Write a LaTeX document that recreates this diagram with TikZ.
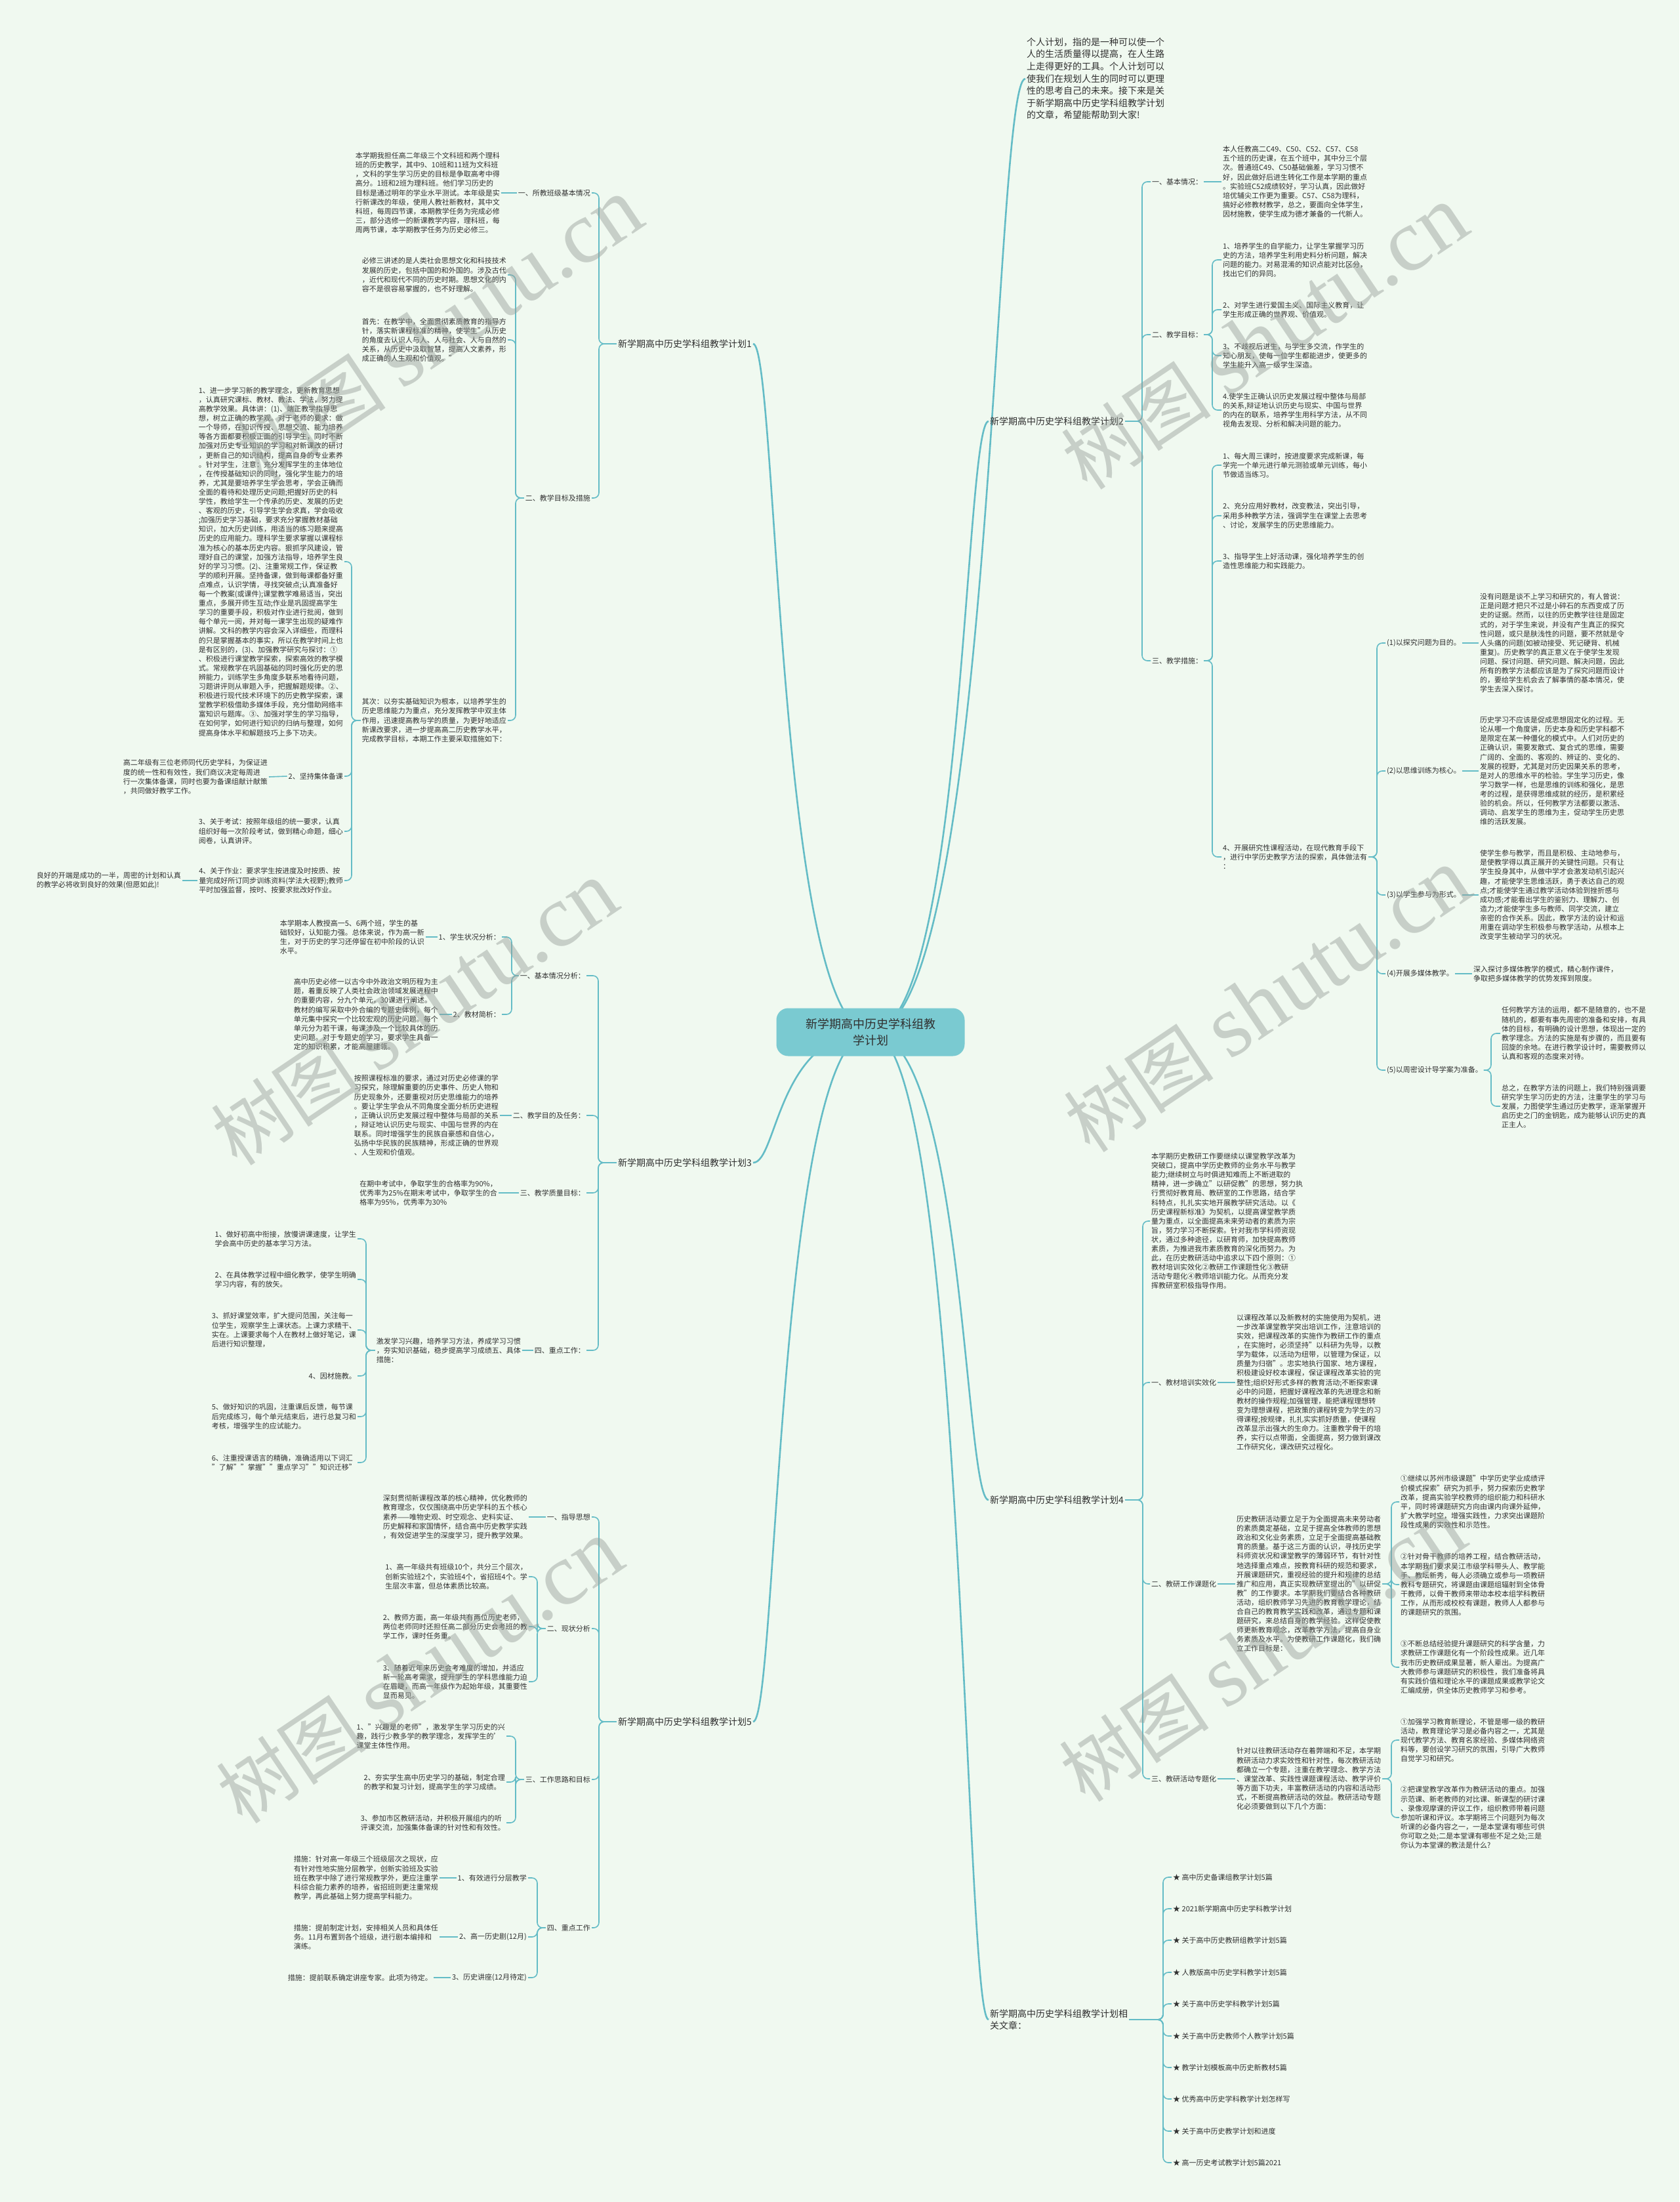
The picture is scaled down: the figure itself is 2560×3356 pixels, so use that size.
\documentclass[tikz,border=0pt]{standalone}
\usepackage{fontspec}
\setmainfont{Noto Sans CJK SC}
\newfontfamily\wmlatin{Liberation Serif}
\usetikzlibrary{backgrounds}
\definecolor{bgc}{RGB}{240,249,240}
\definecolor{lnc}{RGB}{100,188,198}
\definecolor{txc}{RGB}{48,48,48}
\definecolor{rootc}{RGB}{122,202,209}
\definecolor{wmc}{RGB}{150,158,152}
\begin{document}
\begin{tikzpicture}[x=1pt,y=-1pt,
 t/.style={font=\fontsize{11}{14.1}\selectfont, align=left, inner sep=2pt, text=txc},
 lbl/.style={font=\fontsize{11}{14}\selectfont, inner sep=2pt, text=txc},
 mainl/.style={font=\fontsize{14}{18.6}\selectfont, inner sep=2pt, text=txc, align=left},
 cn/.style={draw=lnc, line width=1.6pt, rounded corners=8pt},
 rc/.style={draw=lnc, line width=2.6pt},
 wm/.style={text=wmc, text opacity=0.45, inner sep=0pt, rotate=34}]
\useasboundingbox (0,0) rectangle (2560,3356);

% ---------------- root ----------------
\node[fill=rootc, rounded corners=18pt, minimum width=287pt, minimum height=73pt,
  font=\fontsize{18}{25}\selectfont, align=center, text=txc] (root) at (1327,1573)
  {新学期高中历史学科组教\\学计划};

% ---------------- intro ----------------
\node[mainl, anchor=west] (intro) at (1563,120) {个人计划，指的是一种可以使一个\\
人的生活质量得以提高，在人生路\\
上走得更好的工具。个人计划可以\\
使我们在规划人生的同时可以更理\\
性的思考自己的未来。接下来是关\\
于新学期高中历史学科组教学计划\\
的文章，希望能帮助到大家!};

% ---------------- plan 2 (right) ----------------
\node[mainl, anchor=west] (p2) at (1507,642) {新学期高中历史学科组教学计划2};
\coordinate (bp2) at (1741,0);
\node[lbl, anchor=west] (p2a) at (1754,277) {一、基本情况：};
\node[t, anchor=west] (p2at) at (1862,277) {本人任教高二C49、C50、C52、C57、C58\\
五个班的历史课，在五个班中，其中分三个层\\
次。普通班C49、C50基础偏差，学习习惯不\\
好，因此做好后进生转化工作是本学期的重点\\
。实验班C52成绩较好，学习认真，因此做好\\
培优辅尖工作更为重要。C57、C58为理科，\\
搞好必修教材教学，总之，要面向全体学生，\\
因材施教，使学生成为德才兼备的一代新人。};
\node[lbl, anchor=west] (p2b) at (1754,510) {二、教学目标：};
\coordinate (bp2b) at (1848,0);
\node[t, anchor=west] (p2b1) at (1862,396) {1、培养学生的自学能力，让学生掌握学习历\\
史的方法，培养学生利用史料分析问题，解决\\
问题的能力。对易混淆的知识点能对比区分，\\
找出它们的异同。};
\node[t, anchor=west] (p2b2) at (1862,472) {2、对学生进行爱国主义、国际主义教育，让\\
学生形成正确的世界观、价值观。};
\node[t, anchor=west] (p2b3) at (1862,542) {3、不歧视后进生，与学生多交流，作学生的\\
知心朋友，使每一位学生都能进步，使更多的\\
学生能升入高一级学生深造。};
\node[t, anchor=west] (p2b4) at (1862,625) {4.使学生正确认识历史发展过程中整体与局部\\
的关系,辩证地认识历史与现实、中国与世界\\
的内在的联系，培养学生用科学方法，从不同\\
视角去发现、分析和解决问题的能力。};
\node[lbl, anchor=west] (p2c) at (1754,1007) {三、教学措施：};
\coordinate (bp2c) at (1848,0);
\node[t, anchor=west] (p2c1) at (1862,709) {1、每大周三课时，按进度要求完成新课，每\\
学完一个单元进行单元测验或单元训练，每小\\
节做适当练习。};
\node[t, anchor=west] (p2c2) at (1862,786) {2、充分应用好教材，改变教法，突出引导，\\
采用多种教学方法，强调学生在课堂上去思考\\
、讨论，发展学生的历史思维能力。};
\node[t, anchor=west] (p2c3) at (1862,855) {3、指导学生上好活动课，强化培养学生的创\\
造性思维能力和实践能力。};
\node[t, anchor=west] (p2c4) at (1862,1306) {4、开展研究性课程活动，在现代教育手段下\\
，进行中学历史教学方法的探索，具体做法有\\
：};
\coordinate (bp2c4) at (2099,0);
\node[lbl, anchor=west] (p2d1) at (2112,980) {(1)以探究问题为目的。};
\node[t, anchor=west] (p2d1t) at (2254,980) {没有问题是谈不上学习和研究的，有人曾说：\\
正是问题才把只不过是小碎石的东西变成了历\\
史的证据。然而，以往的历史教学往往是固定\\
式的，对于学生来说，并没有产生真正的探究\\
性问题，或只是肤浅性的问题，要不然就是令\\
人头痛的问题(如被动接受、死记硬背、机械\\
重复)。历史教学的真正意义在于使学生发现\\
问题、探讨问题、研究问题、解决问题，因此\\
所有的教学方法都应该是为了探究问题而设计\\
的，要给学生机会去了解事情的基本情况，使\\
学生去深入探讨。};
\node[lbl, anchor=west] (p2d2) at (2112,1175) {(2)以思维训练为核心。};
\node[t, anchor=west] (p2d2t) at (2254,1175) {历史学习不应该是促成思想固定化的过程。无\\
论从哪一个角度讲，历史本身和历史学科都不\\
是限定在某一种僵化的模式中。人们对历史的\\
正确认识，需要发散式、复合式的思维，需要\\
广阔的、全面的、客观的、辨证的、变化的、\\
发展的视野，尤其是对历史因果关系的思考，\\
是对人的思维水平的检验。学生学习历史，像\\
学习数学一样，也是思维的训练和强化，是思\\
考的过程，是获得思维成就的经历，是积累经\\
验的机会。所以，任何教学方法都要以激活、\\
调动、启发学生的思维为主，促动学生历史思\\
维的活跃发展。};
\node[lbl, anchor=west] (p2d3) at (2112,1364) {(3)以学生参与为形式。};
\node[t, anchor=west] (p2d3t) at (2254,1364) {使学生参与教学，而且是积极、主动地参与，\\
是使教学得以真正展开的关键性问题。只有让\\
学生投身其中，从做中学才会激发动机引起兴\\
趣，才能使学生思维活跃，勇于表达自己的观\\
点;才能使学生通过教学活动体验到挫折感与\\
成功感;才能看出学生的鉴别力、理解力、创\\
造力;才能使学生多与教师、同学交流，建立\\
亲密的合作关系。因此，教学方法的设计和运\\
用重在调动学生积极参与教学活动，从根本上\\
改变学生被动学习的状况。};
\node[lbl, anchor=west] (p2d4) at (2112,1484) {(4)开展多媒体教学。};
\node[t, anchor=west] (p2d4t) at (2244,1484) {深入探讨多媒体教学的模式，精心制作课件，\\
争取把多媒体教学的优势发挥到限度。};
\node[lbl, anchor=west] (p2d5) at (2112,1631) {(5)以周密设计导学案为准备。};
\coordinate (bp2d5) at (2273,0);
\node[t, anchor=west] (p2d5a) at (2287,1575) {任何教学方法的运用，都不是随意的，也不是\\
随机的，都要有事先周密的准备和安排，有具\\
体的目标，有明确的设计思想，体现出一定的\\
教学理念。方法的实施是有步骤的，而且要有\\
回旋的余地。在进行教学设计时，需要教师以\\
认真和客观的态度来对待。};
\node[t, anchor=west] (p2d5b) at (2287,1686) {总之，在教学方法的问题上，我们特别强调要\\
研究学生学习历史的方法，注重学生的学习与\\
发展，力图使学生通过历史教学，逐渐掌握开\\
启历史之门的金钥匙，成为能够认识历史的真\\
正主人。};

% ---------------- plan 4 (right) ----------------
\node[mainl, anchor=west] (p4) at (1507,2286) {新学期高中历史学科组教学计划4};
\coordinate (bp4) at (1742,0);
\node[t, anchor=west] (p4i) at (1753,1861) {本学期历史教研工作要继续以课堂教学改革为\\
突破口，提高中学历史教师的业务水平与教学\\
能力;继续树立与时俱进知难而上不断进取的\\
精神，进一步确立"以研促教"的思想，努力执\\
行贯彻好教育局、教研室的工作思路，结合学\\
科特点，扎扎实实地开展教学研究活动。以《\\
历史课程新标准》为契机，以提高课堂教学质\\
量为重点，以全面提高未来劳动者的素质为宗\\
旨，努力学习不断探索。针对我市学科师资现\\
状，通过多种途径，以研育师，加快提高教师\\
素质，为推进我市素质教育的深化而努力。为\\
此，在历史教研活动中追求以下四个原则：①\\
教材培训实效化②教研工作课题性化③教研\\
活动专题化④教师培训能力化。从而充分发\\
挥教研室积极指导作用。};
\node[lbl, anchor=west] (p4a) at (1753,2107) {一、教材培训实效化};
\node[t, anchor=west] (p4at) at (1883,2107) {以课程改革以及新教材的实施使用为契机，进\\
一步改革课堂教学突出培训工作，注意培训的\\
实效，把课程改革的实施作为教研工作的重点\\
，在实施时，必须坚持"以科研为先导，以教\\
学为载体，以活动为纽带，以管理为保证，以\\
质量为归宿"。忠实地执行国家、地方课程，\\
积极建设好校本课程，保证课程改革实验的完\\
整性;组织好形式多样的教育活动;不断探索课\\
必中的问题，把握好课程改革的先进理念和新\\
教材的操作规程;加强管理，能把课程理想转\\
变为理想课程，把政策的课程转变为学生的习\\
得课程;按规律，扎扎实实抓好质量，使课程\\
改革显示出强大的生命力。注重教学骨干的培\\
养，实行以点带面，全面提高，努力做到课改\\
工作研究化，课改研究过程化。};
\node[lbl, anchor=west] (p4b) at (1753,2414) {二、教研工作课题化};
\node[t, anchor=west] (p4bt) at (1883,2414) {历史教研活动要立足于为全面提高未来劳动者\\
的素质奠定基础，立足于提高全体教师的思想\\
政治和文化业务素质，立足于全面提高基础教\\
育的质量。基于这三方面的认识，寻找历史学\\
科师资状况和课堂教学的薄弱环节，有针对性\\
地选择重点难点，按教育科研的规范和要求，\\
开展课题研究，重视经验的提升和规律的总结\\
推广和应用，真正实现教研室提出的"以研促\\
教"的工作要求。本学期我们要结合各种教研\\
活动，组织教师学习先进的教育教学理论，结\\
合自己的教育教学实践和改革，通过专题和课\\
题研究，来总结自身的教学经验。这样促使教\\
师更新教育观念，改革教学方法，提高自身业\\
务素质及水平。为使教研工作课题化，我们确\\
立工作目标是：};
\coordinate (bp4b) at (2121,0);
\node[t, anchor=west] (p4b1) at (2133,2289) {①继续以苏州市级课题"中学历史学业成绩评\\
价模式探索"研究为抓手，努力探索历史教学\\
改革，提高实验学校教师的组织能力和科研水\\
平，同时将课题研究方向由课内向课外延伸，\\
扩大教学时空，增强实践性，力求突出课题阶\\
段性成果的实效性和示范性。};
\node[t, anchor=west] (p4b2) at (2133,2415) {②针对骨干教师的培养工程，结合教研活动，\\
本学期我们要求吴江市级学科带头人、教学能\\
手、教坛新秀，每人必须确立或参与一项教研\\
教科专题研究，将课题由课题组辐射到全体骨\\
干教师，以骨干教师来带动本校本组学科教研\\
工作，从而形成校校有课题，教师人人都参与\\
的课题研究的氛围。};
\node[t, anchor=west] (p4b3) at (2133,2541) {③不断总结经验提升课题研究的科学含量，力\\
求教研工作课题化有一个阶段性成果。近几年\\
我市历史教研成果显著，新人辈出。为提高广\\
大教师参与课题研究的积极性，我们准备将具\\
有实践价值和理论水平的课题成果或教学论文\\
汇编成册，供全体历史教师学习和参考。};
\node[lbl, anchor=west] (p4c) at (1753,2711) {三、教研活动专题化};
\node[t, anchor=west] (p4ct) at (1883,2711) {针对以往教研活动存在着弊端和不足，本学期\\
教研活动力求实效性和针对性，每次教研活动\\
都确立一个专题，注重在教学理念、教学方法\\
、课堂改革、实践性课题课程活动、教学评价\\
等方面下功夫，丰富教研活动的内容和活动形\\
式，不断提高教研活动的效益。教研活动专题\\
化必须要做到以下几个方面：};
\coordinate (bp4c) at (2121,0);
\node[t, anchor=west] (p4c1) at (2133,2652) {①加强学习教育新理论，不管是哪一级的教研\\
活动，教育理论学习是必备内容之一，尤其是\\
现代教学方法、教育名家经验、多媒体网络资\\
料等，要创设学习研究的氛围，引导广大教师\\
自觉学习和研究。};
\node[t, anchor=west] (p4c2) at (2133,2770) {②把课堂教学改革作为教研活动的重点。加强\\
示范课、新老教师的对比课、新课型的研讨课\\
、录像观摩课的评议工作，组织教师带着问题\\
参加听课和评议。本学期将三个问题列为每次\\
听课的必备内容之一，一是本堂课有哪些可供\\
你可取之处;二是本堂课有哪些不足之处;三是\\
你认为本堂课的教法是什么?};

% ---------------- related (right) ----------------
\node[mainl, anchor=west] (rel) at (1507,3078) {新学期高中历史学科组教学计划相\\关文章：};
\coordinate (brel) at (1773,0);
\node[lbl, anchor=west] (r1) at (1786,2861) {★ 高中历史备课组教学计划5篇};
\node[lbl, anchor=west] (r2) at (1786,2909) {★ 2021新学期高中历史学科教学计划};
\node[lbl, anchor=west] (r3) at (1786,2957) {★ 关于高中历史教研组教学计划5篇};
\node[lbl, anchor=west] (r4) at (1786,3006) {★ 人教版高中历史学科教学计划5篇};
\node[lbl, anchor=west] (r5) at (1786,3054) {★ 关于高中历史学科教学计划5篇};
\node[lbl, anchor=west] (r6) at (1786,3103) {★ 关于高中历史教师个人教学计划5篇};
\node[lbl, anchor=west] (r7) at (1786,3151) {★ 教学计划模板高中历史新教材5篇};
\node[lbl, anchor=west] (r8) at (1786,3199) {★ 优秀高中历史学科教学计划怎样写};
\node[lbl, anchor=west] (r9) at (1786,3248) {★ 关于高中历史教学计划和进度};
\node[lbl, anchor=west] (r10) at (1786,3296) {★ 高一历史考试教学计划5篇2021};

% ---------------- plan 1 (left) ----------------
\node[mainl, anchor=east] (p1) at (1148,524) {新学期高中历史学科组教学计划1};
\coordinate (bp1) at (913,0);
\node[lbl, anchor=east] (p1a) at (902,294) {一、所教班级基本情况};
\node[t, anchor=east] (p1at) at (764,294) {本学期我担任高二年级三个文科班和两个理科\\
班的历史教学，其中9、10班和11班为文科班\\
，文科的学生学习历史的目标是争取高考中得\\
高分。1班和2班为理科班。他们学习历史的\\
目标是通过明年的学业水平测试。本年级是实\\
行新课改的年级，使用人教社新教材，其中文\\
科班，每周四节课，本期教学任务为完成必修\\
三，部分选修一的新课教学内容，理科班，每\\
周两节课，本学期教学任务为历史必修三。};
\node[lbl, anchor=east] (p1b) at (902,759) {二、教学目标及措施};
\coordinate (bp1b) at (786,0);
\node[t, anchor=east] (p1b1) at (774,419) {必修三讲述的是人类社会思想文化和科技技术\\
发展的历史，包括中国的和外国的。涉及古代\\
，近代和现代不同的历史时期。思想文化的内\\
容不是很容易掌握的，也不好理解。};
\node[t, anchor=east] (p1b2) at (774,518) {首先：在教学中，全面贯彻素质教育的指导方\\
针，落实新课程标准的精神，使学生"从历史\\
的角度去认识人与人、人与社会、人与自然的\\
关系，从历史中汲取智慧，提高人文素养，形\\
成正确的人生观和价值观。"};
\node[t, anchor=east] (p1b3) at (774,1098) {其次：以夯实基础知识为根本，以培养学生的\\
历史思维能力为重点，充分发挥教学中双主体\\
作用，迅速提高教与学的质量，为更好地适应\\
新课改要求，进一步提高高二历史教学水平，\\
完成教学目标，本期工作主要采取措施如下：};
\coordinate (bp1b3) at (536,0);
\node[t, anchor=east] (p1c1) at (525,856) {1、进一步学习新的教学理念，更新教育思想\\
，认真研究课标、教材、教法、学法，努力提\\
高教学效果。具体讲：(1)、端正教学指导思\\
想，树立正确的教学观。对于老师的要求：做\\
一个导师，在知识传授、思想交流、能力培养\\
等各方面都要积极正面的引导学生，同时不断\\
加强对历史专业知识的学习和对新课改的研讨\\
，更新自己的知识结构，提高自身的专业素养\\
。针对学生，注意：充分发挥学生的主体地位\\
，在传授基础知识的同时，强化学生能力的培\\
养，尤其是要培养学生学会思考，学会正确而\\
全面的看待和处理历史问题;把握好历史的科\\
学性，教给学生一个传承的历史、发展的历史\\
、客观的历史，引导学生学会求真，学会吸收\\
;加强历史学习基础，要求充分掌握教材基础\\
知识，加大历史训练，用适当的练习题来提高\\
历史的应用能力。理科学生要求掌握以课程标\\
准为核心的基本历史内容。狠抓学风建设，管\\
理好自己的课堂，加强方法指导，培养学生良\\
好的学习习惯。(2)、注重常规工作，保证教\\
学的顺利开展。坚持备课，做到每课都备好重\\
点难点，认识学情，寻找突破点;认真准备好\\
每一个教案(或课件);课堂教学难易适当，突出\\
重点，多展开师生互动;作业是巩固提高学生\\
学习的重要手段，积极对作业进行批阅，做到\\
每个单元一阅，并对每一课学生出现的疑难作\\
讲解。文科的教学内容会深入详细些，而理科\\
的只是掌握基本的事实，所以在教学时间上也\\
是有区别的，(3)、加强教学研究与探讨：①\\
、积极进行课堂教学探索，探索高效的教学模\\
式。常规教学在巩固基础的同时强化历史的思\\
辨能力，训练学生多角度多联系地看待问题，\\
习题讲评则从审题入手，把握解题规律。②、\\
积极进行现代技术环境下的历史教学探索，课\\
堂教学积极借助多媒体手段，充分借助网络丰\\
富知识与题库。③、加强对学生的学习指导，\\
在如何学，如何进行知识的归纳与整理，如何\\
提高身体水平和解题技巧上多下功夫。};
\node[lbl, anchor=east] (p1c2) at (525,1183) {2、坚持集体备课};
\node[t, anchor=east] (p1c2t) at (410,1184) {高二年级有三位老师同代历史学科，为保证进\\
度的统一性和有效性，我们商议决定每周进\\
行一次集体备课，同时也要为备课组献计献策\\
，共同做好教学工作。};
\node[t, anchor=east] (p1c3) at (525,1267) {3、关于考试：按照年级组的统一要求，认真\\
组织好每一次阶段考试，做到精心命题，细心\\
阅卷，认真讲评。};
\node[t, anchor=east] (p1c4) at (525,1342) {4、关于作业：要求学生按进度及时按质、按\\
量完成好所订同步训练资料(学法大视野);教师\\
平时加强监督，按时、按要求批改好作业。};
\node[t, anchor=east] (p1c4t) at (278,1342) {良好的开端是成功的一半，周密的计划和认真\\
的教学必将收到良好的效果(但愿如此)!};

% ---------------- plan 3 (left) ----------------
\node[mainl, anchor=east] (p3) at (1148,1772) {新学期高中历史学科组教学计划3};
\coordinate (bp3) at (912,0);
\node[lbl, anchor=east] (p3a) at (894,1487) {一、基本情况分析：};
\coordinate (bp3a) at (780,0);
\node[lbl, anchor=east] (p3a1) at (765,1428) {1、学生状况分析：};
\node[t, anchor=east] (p3a1t) at (649,1428) {本学期本人教授高一5、6两个班，学生的基\\
础较好，认知能力强。总体来说，作为高一新\\
生，对于历史的学习还停留在初中阶段的认识\\
水平。};
\node[lbl, anchor=east] (p3a2) at (765,1546) {2、教材简析：};
\node[t, anchor=east] (p3a2t) at (670,1546) {高中历史必修一以古今中外政治文明历程为主\\
题，着重反映了人类社会政治领域发展进程中\\
的重要内容，分九个单元，30课进行阐述。\\
教材的编写采取中外合编的专题史体例，每个\\
单元集中探究一个比较宏观的历史问题。每个\\
单元分为若干课，每课涉及一个比较具体的历\\
史问题。对于专题史的学习，要求学生具备一\\
定的知识积累，才能高屋建瓴。};
\node[lbl, anchor=east] (p3b) at (894,1700) {二、教学目的及任务：};
\node[t, anchor=east] (p3bt) at (762,1700) {按照课程标准的要求，通过对历史必修课的学\\
习探究，除理解重要的历史事件、历史人物和\\
历史现象外，还要重视对历史思维能力的培养\\
。要让学生学会从不同角度全面分析历史进程\\
，正确认识历史发展过程中整体与局部的关系\\
，辩证地认识历史与现实、中国与世界的内在\\
联系。同时增强学生的民族自豪感和自信心，\\
弘扬中华民族的民族精神，形成正确的世界观\\
、人生观和价值观。};
\node[lbl, anchor=east] (p3c) at (894,1818) {三、教学质量目标：};
\node[t, anchor=east] (p3ct) at (760,1818) {在期中考试中，争取学生的合格率为90\%，\\
优秀率为25\%在期末考试中，争取学生的合\\
格率为95\%，优秀率为30\%};
\node[lbl, anchor=east] (p3d) at (894,2058) {四、重点工作：};
\node[t, anchor=east] (p3dt) at (796,2058) {激发学习兴趣，培养学习方法，养成学习习惯\\
，夯实知识基础，稳步提高学习成绩五、具体\\
措施：};
\coordinate (bp3dt) at (558,0);
\node[t, anchor=east] (p3e1) at (545,1888) {1、做好初高中衔接，放慢讲课速度，让学生\\
学会高中历史的基本学习方法。};
\node[t, anchor=east] (p3e2) at (545,1950) {2、在具体教学过程中细化教学，使学生明确\\
学习内容，有的放矢。};
\node[t, anchor=east] (p3e3) at (545,2027) {3、抓好课堂效率，扩大提问范围，关注每一\\
位学生，观察学生上课状态。上课力求精干、\\
实在。上课要求每个人在教材上做好笔记，课\\
后进行知识整理，};
\node[lbl, anchor=east] (p3e4) at (545,2097) {4、因材施教。};
\node[t, anchor=east] (p3e5) at (545,2159) {5、做好知识的巩固，注重课后反馈，每节课\\
后完成练习，每个单元结束后，进行总复习和\\
考核，增强学生的应试能力。};
\node[t, anchor=east] (p3e6) at (545,2229) {6、注重授课语言的精确，准确适用以下词汇\\
"了解""掌握""重点学习""知识迁移"};

% ---------------- plan 5 (left) ----------------
\node[mainl, anchor=east] (p5) at (1148,2624) {新学期高中历史学科组教学计划5};
\coordinate (bp5) at (913,0);
\node[lbl, anchor=east] (p5a) at (902,2312) {一、指导思想};
\node[t, anchor=east] (p5at) at (806,2312) {深刻贯彻新课程改革的核心精神，优化教师的\\
教育理念，仅仅围绕高中历史学科的五个核心\\
素养——唯物史观、时空观念、史料实证、\\
历史解释和家国情怀，结合高中历史教学实践\\
，有效促进学生的深度学习，提升教学效果。};
\node[lbl, anchor=east] (p5b) at (902,2482) {二、现状分析};
\coordinate (bp5b) at (819,0);
\node[t, anchor=east] (p5b1) at (806,2403) {1、高一年级共有班级10个，共分三个层次，\\
创新实验班2个，实验班4个，省招班4个。学\\
生层次丰富，但总体素质比较高。};
\node[t, anchor=east] (p5b2) at (806,2479) {2、教师方面，高一年级共有两位历史老师，\\
两位老师同时还担任高二部分历史会考班的教\\
学工作，课时任务重。};
\node[t, anchor=east] (p5b3) at (806,2563) {3、随着近年来历史会考难度的增加，并适应\\
新一轮高考需求，提升学生的学科思维能力迫\\
在眉睫，而高一年级作为起始年级，其重要性\\
显而易见。};
\node[lbl, anchor=east] (p5c) at (902,2712) {三、工作思路和目标};
\coordinate (bp5c) at (786,0);
\node[t, anchor=east] (p5c1) at (772,2646) {1、"兴趣是的老师"，激发学生学习历史的兴\\
趣，践行少教多学的教学理念，发挥学生的'\\
课堂主体性作用。};
\node[t, anchor=east] (p5c2) at (772,2716) {2、夯实学生高中历史学习的基础，制定合理\\
的教学和复习计划，提高学生的学习成绩。};
\node[t, anchor=east] (p5c3) at (772,2778) {3、参加市区教研活动，并积极开展组内的听\\
评课交流，加强集体备课的针对性和有效性。};
\node[lbl, anchor=east] (p5d) at (902,2938) {四、重点工作};
\coordinate (bp5d) at (819,0);
\node[lbl, anchor=east] (p5d1) at (805,2862) {1、有效进行分层教学};
\node[t, anchor=east] (p5d1t) at (670,2862) {措施：针对高一年级三个班级层次之现状，应\\
有针对性地实施分层教学，创新实验班及实验\\
班在教学中除了进行常规教学外，更应注重学\\
科综合能力素养的培养，省招班则更注重常规\\
教学，再此基础上努力提高学科能力。};
\node[lbl, anchor=east] (p5d2) at (805,2952) {2、高一历史剧(12月)};
\node[t, anchor=east] (p5d2t) at (670,2952) {措施：提前制定计划，安排相关人员和具体任\\
务。11月布置到各个班级，进行剧本编排和\\
演练。};
\node[lbl, anchor=east] (p5d3) at (805,3014) {3、历史讲座(12月待定)};
\node[t, anchor=east] (p5d3t) at (661,3014) {措施：提前联系确定讲座专家。此项为待定。};

% ---------------- connectors ----------------
\begin{pgfonlayer}{background}
\fill[bgc] (0,0) rectangle (2560,3356);
% root curves
\draw[rc] (root.center) .. controls (1514,1573) and (1514,120) .. (intro.west);
\draw[rc] (root.center) .. controls (1470,1573) and (1470,642) .. (p2.west);
\draw[rc] (root.center) .. controls (1470,1573) and (1470,2286) .. (p4.west);
\draw[rc] (root.center) .. controls (1470,1573) and (1470,3078) .. (rel.west);
\draw[rc] (root.center) .. controls (1185,1573) and (1185,524) .. (p1.east);
\draw[rc] (root.center) .. controls (1185,1573) and (1185,1772) .. (p3.east);
\draw[rc] (root.center) .. controls (1185,1573) and (1185,2624) .. (p5.east);
% plan 2
\foreach \c in {p2a,p2b,p2c} \draw[cn] (p2.east) -- (p2.east -| bp2) |- (\c.west);
\draw[cn] (p2a.east) -- (p2at.west);
\foreach \c in {p2b1,p2b2,p2b3,p2b4} \draw[cn] (p2b.east) -- (p2b.east -| bp2b) |- (\c.west);
\foreach \c in {p2c1,p2c2,p2c3,p2c4} \draw[cn] (p2c.east) -- (p2c.east -| bp2c) |- (\c.west);
\foreach \c in {p2d1,p2d2,p2d3,p2d4,p2d5} \draw[cn] (p2c4.east) -- (p2c4.east -| bp2c4) |- (\c.west);
\draw[cn] (p2d1.east) -- (p2d1t.west);
\draw[cn] (p2d2.east) -- (p2d2t.west);
\draw[cn] (p2d3.east) -- (p2d3t.west);
\draw[cn] (p2d4.east) -- (p2d4t.west);
\foreach \c in {p2d5a,p2d5b} \draw[cn] (p2d5.east) -- (p2d5.east -| bp2d5) |- (\c.west);
% plan 4
\foreach \c in {p4i,p4a,p4b,p4c} \draw[cn] (p4.east) -- (p4.east -| bp4) |- (\c.west);
\draw[cn] (p4a.east) -- (p4at.west);
\draw[cn] (p4b.east) -- (p4bt.west);
\draw[cn] (p4c.east) -- (p4ct.west);
\foreach \c in {p4b1,p4b2,p4b3} \draw[cn] (p4bt.east) -- (p4bt.east -| bp4b) |- (\c.west);
\foreach \c in {p4c1,p4c2} \draw[cn] (p4ct.east) -- (p4ct.east -| bp4c) |- (\c.west);
% related
\foreach \c in {r1,r2,r3,r4,r5,r6,r7,r8,r9,r10} \draw[cn] (rel.east) -- (rel.east -| brel) |- (\c.west);
% plan 1
\foreach \c in {p1a,p1b} \draw[cn] (p1.west) -- (p1.west -| bp1) |- (\c.east);
\draw[cn] (p1a.west) -- (p1at.east);
\foreach \c in {p1b1,p1b2,p1b3} \draw[cn] (p1b.west) -- (p1b.west -| bp1b) |- (\c.east);
\foreach \c in {p1c1,p1c2,p1c3,p1c4} \draw[cn] (p1b3.west) -- (p1b3.west -| bp1b3) |- (\c.east);
\draw[cn] (p1c2.west) -- (p1c2t.east);
\draw[cn] (p1c4.west) -- (p1c4t.east);
% plan 3
\foreach \c in {p3a,p3b,p3c,p3d} \draw[cn] (p3.west) -- (p3.west -| bp3) |- (\c.east);
\foreach \c in {p3a1,p3a2} \draw[cn] (p3a.west) -- (p3a.west -| bp3a) |- (\c.east);
\draw[cn] (p3a1.west) -- (p3a1t.east);
\draw[cn] (p3a2.west) -- (p3a2t.east);
\draw[cn] (p3b.west) -- (p3bt.east);
\draw[cn] (p3c.west) -- (p3ct.east);
\draw[cn] (p3d.west) -- (p3dt.east);
\foreach \c in {p3e1,p3e2,p3e3,p3e4,p3e5,p3e6} \draw[cn] (p3dt.west) -- (p3dt.west -| bp3dt) |- (\c.east);
% plan 5
\foreach \c in {p5a,p5b,p5c,p5d} \draw[cn] (p5.west) -- (p5.west -| bp5) |- (\c.east);
\draw[cn] (p5a.west) -- (p5at.east);
\foreach \c in {p5b1,p5b2,p5b3} \draw[cn] (p5b.west) -- (p5b.west -| bp5b) |- (\c.east);
\foreach \c in {p5c1,p5c2,p5c3} \draw[cn] (p5c.west) -- (p5c.west -| bp5c) |- (\c.east);
\foreach \c in {p5d1,p5d2,p5d3} \draw[cn] (p5d.west) -- (p5d.west -| bp5d) |- (\c.east);
\draw[cn] (p5d1.west) -- (p5d1t.east);
\draw[cn] (p5d2.west) -- (p5d2t.east);
\draw[cn] (p5d3.west) -- (p5d3t.east);
\end{pgfonlayer}

% ---------------- watermarks ----------------
\node[wm] (wm1) at (670,503) {\fontsize{115}{115}\selectfont 树图 {\wmlatin\fontsize{135}{135}\selectfont shutu.cn}};
\node[wm] (wm2) at (1928,515) {\fontsize{115}{115}\selectfont 树图 {\wmlatin\fontsize{135}{135}\selectfont shutu.cn}};
\node[wm] (wm3) at (632,1545) {\fontsize{115}{115}\selectfont 树图 {\wmlatin\fontsize{135}{135}\selectfont shutu.cn}};
\node[wm] (wm4) at (1932,1525) {\fontsize{115}{115}\selectfont 树图 {\wmlatin\fontsize{135}{135}\selectfont shutu.cn}};
\node[wm] (wm5) at (640,2548) {\fontsize{115}{115}\selectfont 树图 {\wmlatin\fontsize{135}{135}\selectfont shutu.cn}};
\node[wm] (wm6) at (1925,2515) {\fontsize{115}{115}\selectfont 树图 {\wmlatin\fontsize{135}{135}\selectfont shutu.cn}};
\end{tikzpicture}
\end{document}
